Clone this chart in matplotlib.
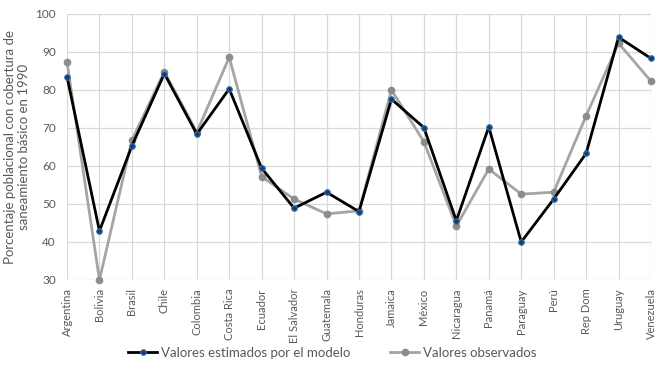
import numpy as np
import matplotlib.pyplot as plt

paises = ["Argentina", "Bolivia", "Brasil", "Chile", "Colombia", "Costa Rica",
          "Ecuador", "El Salvador", "Guatemala", "Honduras", "Jamaica", "México",
          "Nicaragua", "Panamá", "Paraguay", "Perú", "Rep Dom", "Uruguay", "Venezuela"]
estimados = [83.5, 42.9, 65.3, 84.3, 68.4, 80.3, 59.4, 48.9, 53.1, 48.0,
             77.6, 70.1, 45.6, 70.3, 40.0, 51.3, 63.3, 93.9, 88.3]
observados = [87.4, 30.0, 66.8, 84.8, 68.9, 88.6, 57.2, 51.3, 47.4, 48.2,
              80.0, 66.4, 44.2, 59.2, 52.6, 53.1, 73.2, 92.3, 82.3]
y_ticks = [30, 40, 50, 60, 70, 80, 90, 100]

plt.rcParams['font.family'] = ['Lato', 'DejaVu Sans']
txt = "#595959"

fig = plt.figure(figsize=(6.65, 3.69), dpi=100)
ax = fig.add_axes([67 / 665, 1 - 280 / 369, (651 - 67) / 665, (280 - 14) / 369])

x = np.arange(len(paises))
ax.plot(x, estimados, color="black", lw=2.0, marker="o", ms=4,
        mfc="#1F3864", mec="#2E75B6", mew=0.8, clip_on=False, zorder=3,
        label="Valores estimados por el modelo")
ax.plot(x, observados, color="#A5A5A5", lw=2.0, marker="o", ms=4.5,
        mfc="#8C8C8C", mec="#8C8C8C", clip_on=False, zorder=2,
        label="Valores observados")

ax.set_xlim(0, len(paises) - 1)
ax.set_ylim(30, 100)
ax.set_yticks(y_ticks)
ax.set_xticks(x)
ax.set_xticklabels(paises, rotation=90, fontsize=8, color=txt)
ax.tick_params(axis="y", labelsize=8.5, colors=txt, length=0, pad=8)
ax.tick_params(axis="x", length=0, pad=6)
ax.grid(True, color="#D9D9D9", lw=0.9)
ax.set_axisbelow(True)
for s in ax.spines.values():
    s.set_visible(False)

ax.set_ylabel("Porcentaje poblacional con cobertura de\nsaneamiento básico en 1990",
              fontsize=9.5, color=txt, labelpad=4)

leg = fig.legend(loc="center", bbox_to_anchor=(0.5, 1 - 353 / 369), ncol=2,
                 frameon=False, fontsize=9.5, handlelength=2.2, columnspacing=3.0,
                 handletextpad=0.3)
for t in leg.get_texts():
    t.set_color(txt)

fig.savefig("out.png", dpi=100)
